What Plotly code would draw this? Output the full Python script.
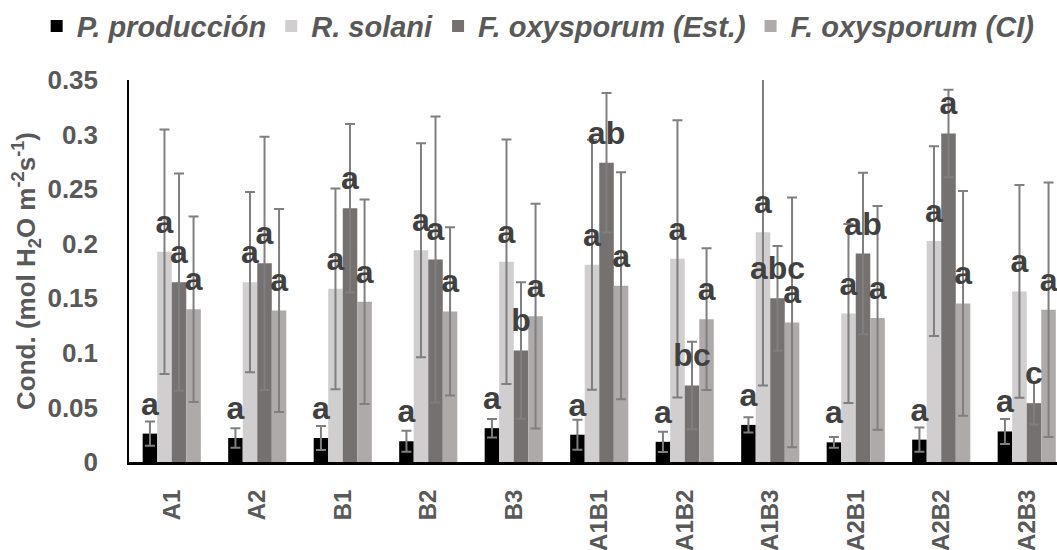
import plotly.graph_objects as go

categories = ["A1", "A2", "B1", "B2", "B3", "A1B1", "A1B2", "A1B3", "A2B1", "A2B2", "A2B3"]

series_names = ["P. producción", "R. solani", "F. oxysporum (Est.)", "F. oxysporum (CI)"]
series_colors = ["#000000", "#D0CECE", "#767171", "#AEAAAA"]

p_produccion = [0.026, 0.022, 0.022, 0.019, 0.031, 0.025, 0.0185, 0.034, 0.018, 0.0205, 0.028]
p_produccion_err = [0.011, 0.009, 0.011, 0.0097, 0.0085, 0.0137, 0.0093, 0.007, 0.005, 0.011, 0.0115]
r_solani = [0.1926, 0.1648, 0.1587, 0.194, 0.1835, 0.1807, 0.1862, 0.2106, 0.136, 0.2024, 0.1563]
r_solani_err = [0.112, 0.0825, 0.092, 0.098, 0.112, 0.1145, 0.127, 0.1405, 0.082, 0.087, 0.0975]
f_oxy_est = [0.1648, 0.182, 0.2326, 0.1856, 0.1022, 0.2742, 0.0701, 0.150, 0.191, 0.301, 0.0539]
f_oxy_est_err = [0.0995, 0.116, 0.077, 0.131, 0.0625, 0.064, 0.04, 0.048, 0.074, 0.04, 0.0195]
f_oxy_ci = [0.140, 0.1389, 0.1468, 0.138, 0.1336, 0.1615, 0.1309, 0.1279, 0.132, 0.1453, 0.1395]
f_oxy_ci_err = [0.085, 0.093, 0.0937, 0.077, 0.103, 0.104, 0.065, 0.1145, 0.1025, 0.103, 0.1165]

letters_p = ["a"] * 11
letters_r = ["a"] * 11
letters_fe = ["a", "a", "a", "a", "b", "ab", "bc", "abc", "ab", "a", "c"]
letters_fc = ["a"] * 11

y_ticks = [0, 0.05, 0.1, 0.15, 0.2, 0.25, 0.3, 0.35]
y_tick_labels = ["0", "0.05", "0.1", "0.15", "0.2", "0.25", "0.3", "0.35"]

values = [p_produccion, r_solani, f_oxy_est, f_oxy_ci]
errors = [p_produccion_err, r_solani_err, f_oxy_est_err, f_oxy_ci_err]
letters = [letters_p, letters_r, letters_fe, letters_fc]

FONT = "Liberation Sans, Arial, sans-serif"
fig = go.Figure()

for name, color, vals, errs in zip(series_names, series_colors, values, errors):
    fig.add_trace(go.Bar(
        x=categories, y=vals, name=name,
        marker=dict(color=color, line=dict(width=0)),
        error_y=dict(type="data", array=errs, visible=True,
                     color="#7F7F7F", thickness=2, width=5),
        cliponaxis=False,
    ))

for vals, labs in zip(values, letters):
    fig.add_trace(go.Scatter(
        x=categories, y=vals, mode="markers+text", text=labs,
        textposition="top center",
        textfont=dict(family=FONT, size=32, color="#404040", weight="bold"),
        marker=dict(size=16, color="rgba(0,0,0,0)"),
        showlegend=False, hoverinfo="skip", cliponaxis=False,
    ))

fig.update_layout(
    width=1057, height=550,
    margin=dict(l=129, r=0, t=80, b=88, autoexpand=False),
    paper_bgcolor="white", plot_bgcolor="white",
    barmode="group", bargap=0.32, bargroupgap=0,
    scattermode="group", scattergap=0.32,
    legend=dict(
        orientation="h", xref="paper", yref="paper",
        x=-0.0995, y=1.208, xanchor="left", yanchor="top",
        font=dict(family=FONT, size=29, color="#595959", weight="bold", style="italic"),
        bgcolor="rgba(0,0,0,0)",
    ),
    font=dict(family=FONT, color="#595959"),
)

fig.update_xaxes(
    range=[-0.5, 10.354], showgrid=False, zeroline=False,
    showline=True, linecolor="black", linewidth=3,
    tickangle=-90, ticks="", ticklabelstandoff=15,
    tickfont=dict(family=FONT, size=24, color="#595959", weight="bold"),
)
fig.update_yaxes(
    range=[0, 0.35], tickvals=y_ticks, ticktext=y_tick_labels,
    showgrid=False, zeroline=False, showline=True, linecolor="black", linewidth=1.5,
    ticks="", ticklabelstandoff=24,
    tickfont=dict(family=FONT, size=26, color="#595959", weight="bold"),
    title=dict(text="Cond. (mol H<sub>2</sub>O m<sup>-2</sup>s<sup>-1</sup>)",
               font=dict(family=FONT, size=26, color="#595959", weight="bold"),
               standoff=4),
)

fig.write_html("out.html")
